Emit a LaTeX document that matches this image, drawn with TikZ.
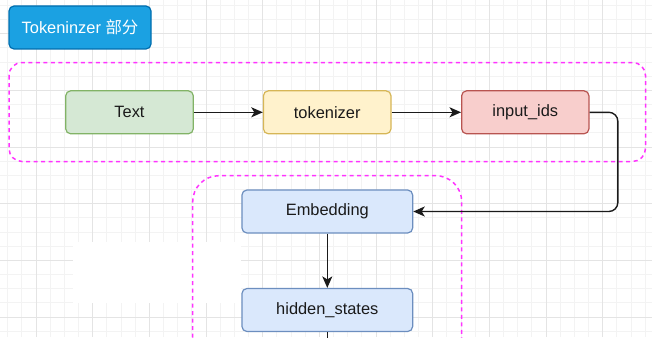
\documentclass[tikz,border=0pt]{standalone}
\usepackage{fontspec}
\setmainfont{Liberation Sans}
\newfontfamily\cjk{Noto Sans CJK SC}
\usetikzlibrary{arrows.meta}
\definecolor{gridminor}{HTML}{F3F3F3}
\definecolor{gridmajor}{HTML}{E4E4E4}
\definecolor{titlefill}{HTML}{1BA1E2}
\definecolor{titleline}{HTML}{006EAF}
\definecolor{greenfill}{HTML}{D5E8D4}
\definecolor{greenline}{HTML}{82B366}
\definecolor{yellowfill}{HTML}{FFF2CC}
\definecolor{yellowline}{HTML}{D6B656}
\definecolor{redfill}{HTML}{F8CECC}
\definecolor{redline}{HTML}{B85450}
\definecolor{bluefill}{HTML}{DAE8FC}
\definecolor{blueline}{HTML}{6C8EBF}
\definecolor{groupline}{HTML}{FF33FF}
\definecolor{ink}{HTML}{1A1A1A}
\tikzset{
  stepbox/.style={rounded corners=5pt,line width=1.2pt,inner sep=0pt,
    minimum height=43pt,font=\fontsize{16.4}{19}\selectfont,text=ink},
  groupbox/.style={draw=groupline,line width=1.5pt,dash pattern=on 4pt off 3.5pt},
  conn/.style={draw=ink,line width=1.4pt,-{Stealth[length=11.5pt,width=10pt,inset=3pt]}}
}
\begin{document}
\begin{tikzpicture}[x=1pt,y=-1pt]
  \useasboundingbox (0,0) rectangle (652,337);
  \fill[white] (0,0) rectangle (652,337);
  % grid
  \foreach \k in {0,...,45} \draw[gridminor,line width=0.8pt] ({7.667+14.1667*\k},0) -- ++(0,337);
  \foreach \k in {0,...,23} \draw[gridminor,line width=0.8pt] (0,{5.37+14.1667*\k}) -- ++(652,0);
  \foreach \k in {0,...,10} \draw[gridmajor,line width=1pt] ({36+56.667*\k},0) -- ++(0,337);
  \foreach \k in {0,...,5} \draw[gridmajor,line width=1pt] (0,{33.7+56.667*\k}) -- ++(652,0);
  \fill[white] (73.3,241.7) rectangle (240.7,303.3);
  % groups
  \draw[groupbox,rounded corners=13pt] (9,62.5) rectangle (645.5,161.5);
  \draw[groupbox,rounded corners=26pt] (192.7,345) -- (192.7,175.7) -- (461.7,175.7) -- (461.7,345);
  % title
  \node[stepbox,fill=titlefill,draw=titleline,text=white,minimum width=142pt]
    (title) at (80,27.5) {Tokeninzer {\cjk 部分}};
  % tokenizer part
  \node[stepbox,fill=greenfill,draw=greenline,minimum width=127.6pt] (text) at (129.5,112.3) {Text};
  \node[stepbox,fill=yellowfill,draw=yellowline,minimum width=127.6pt] (tok) at (327.2,112.3) {tokenizer};
  \node[stepbox,fill=redfill,draw=redline,minimum width=127.3pt] (ids) at (525.3,112.3) {input\_ids};
  % model part
  \node[stepbox,fill=bluefill,draw=blueline,minimum width=170.7pt] (emb) at (327.3,211.5) {Embedding};
  \node[stepbox,fill=bluefill,draw=blueline,minimum width=170.7pt] (hid) at (327.3,310) {hidden\_states};
  \coordinate (hidout) at (327.3,345);
  % connectors
  \draw[conn] (text) -- (tok);
  \draw[conn] (tok) -- (ids);
  \draw[conn,rounded corners=9pt] (ids.east) -- ++(28.3,0) |- (emb.east);
  \draw[conn] (emb) -- (hid);
  \draw[draw=ink,line width=1.4pt] (hid.south) -- (hidout);
\end{tikzpicture}
\end{document}
